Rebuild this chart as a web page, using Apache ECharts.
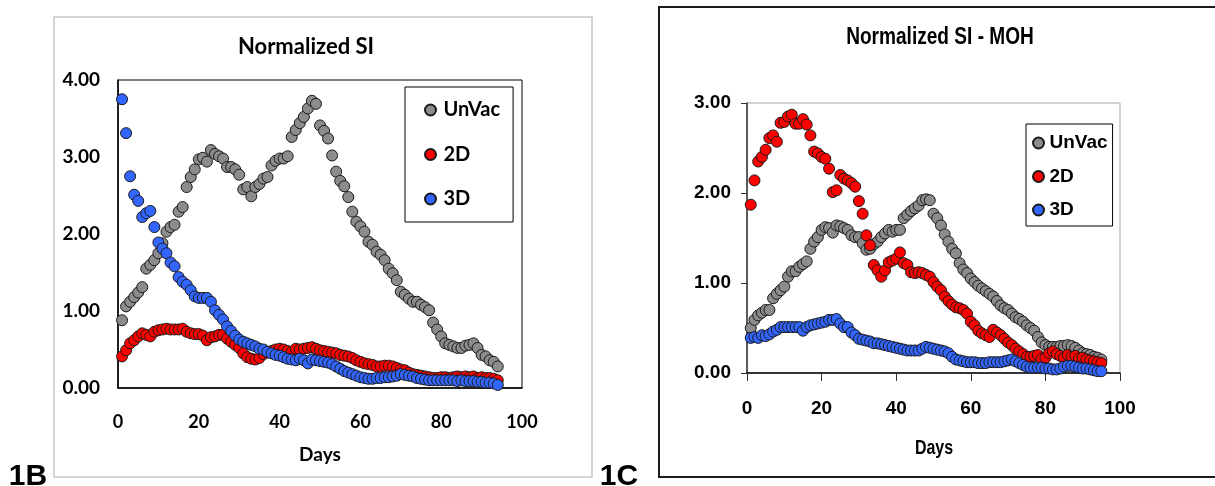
<!DOCTYPE html>
<html>
<head>
<meta charset="utf-8">
<script src="https://cdn.jsdelivr.net/npm/echarts@6/dist/echarts.min.js"></script>
<style>
html, body { margin: 0; padding: 0; background: #fff; }
#chart { width: 1215px; height: 486px; }
</style>
</head>
<body>
<div id="chart"></div>
<script>
// Panel 1B: Normalized SI, days 1-94
const daysB = [1,2,3,4,5,6,7,8,9,10,11,12,13,14,15,16,17,18,19,20,21,22,23,24,25,26,27,28,29,30,
  31,32,33,34,35,36,37,38,39,40,41,42,43,44,45,46,47,48,49,50,51,52,53,54,55,56,57,58,59,60,
  61,62,63,64,65,66,67,68,69,70,71,72,73,74,75,76,77,78,79,80,81,82,83,84,85,86,87,88,89,90,
  91,92,93,94];
const unvacB = [0.88,1.06,1.12,1.18,1.24,1.31,1.55,1.60,1.66,1.75,
  1.88,2.03,2.09,2.12,2.29,2.35,2.61,2.74,2.84,2.97,
  2.99,2.94,3.09,3.04,3.01,2.98,2.87,2.87,2.84,2.77,
  2.58,2.61,2.49,2.61,2.65,2.72,2.74,2.89,2.95,2.98,
  2.98,3.01,3.26,3.35,3.44,3.52,3.63,3.73,3.69,3.41,
  3.34,3.24,3.02,2.81,2.69,2.62,2.48,2.29,2.16,2.10,
  2.03,1.90,1.86,1.77,1.73,1.66,1.55,1.49,1.40,1.25,
  1.21,1.16,1.12,1.12,1.08,1.05,1.01,0.85,0.76,0.67,
  0.58,0.56,0.54,0.52,0.52,0.55,0.56,0.58,0.52,0.43,
  0.41,0.36,0.34,0.28];
const twoDB = [0.41,0.49,0.58,0.62,0.67,0.71,0.69,0.67,0.73,0.75,
  0.76,0.77,0.76,0.76,0.76,0.77,0.73,0.71,0.70,0.70,
  0.68,0.62,0.66,0.67,0.69,0.69,0.64,0.60,0.56,0.52,
  0.45,0.40,0.38,0.37,0.39,0.44,0.46,0.48,0.50,0.51,
  0.50,0.48,0.47,0.51,0.50,0.51,0.52,0.53,0.51,0.49,
  0.48,0.47,0.46,0.45,0.43,0.42,0.41,0.39,0.36,0.34,
  0.32,0.31,0.30,0.28,0.28,0.29,0.29,0.28,0.26,0.24,
  0.23,0.20,0.18,0.17,0.16,0.15,0.14,0.13,0.13,0.14,
  0.14,0.13,0.14,0.15,0.14,0.15,0.14,0.15,0.13,0.14,
  0.13,0.13,0.12,0.10];
const threeDB = [3.75,3.31,2.75,2.51,2.43,2.22,2.27,2.30,2.09,1.89,
  1.81,1.75,1.63,1.58,1.44,1.38,1.34,1.27,1.19,1.17,
  1.17,1.17,1.12,1.01,0.95,0.89,0.80,0.74,0.68,0.63,
  0.60,0.58,0.56,0.54,0.51,0.50,0.47,0.45,0.43,0.42,
  0.40,0.38,0.37,0.36,0.38,0.36,0.32,0.37,0.36,0.35,
  0.34,0.33,0.31,0.28,0.25,0.22,0.20,0.18,0.16,0.14,
  0.13,0.12,0.12,0.13,0.13,0.14,0.14,0.15,0.16,0.18,
  0.17,0.16,0.15,0.13,0.12,0.11,0.10,0.10,0.10,0.10,
  0.10,0.10,0.10,0.09,0.10,0.09,0.09,0.09,0.08,0.08,
  0.07,0.07,0.06,0.04];

// Panel 1C: Normalized SI - MOH, days 1-95
const daysC = [1,2,3,4,5,6,7,8,9,10,11,12,13,14,15,16,17,18,19,20,21,22,23,24,25,26,27,28,29,30,
  31,32,33,34,35,36,37,38,39,40,41,42,43,44,45,46,47,48,49,50,51,52,53,54,55,56,57,58,59,60,
  61,62,63,64,65,66,67,68,69,70,71,72,73,74,75,76,77,78,79,80,81,82,83,84,85,86,87,88,89,90,
  91,92,93,94,95];
const unvacC = [0.50,0.59,0.64,0.67,0.70,0.70,0.83,0.88,0.92,0.96,
  1.07,1.13,1.13,1.18,1.21,1.24,1.38,1.46,1.51,1.59,
  1.62,1.61,1.56,1.64,1.63,1.61,1.59,1.53,1.51,1.51,
  1.44,1.37,1.38,1.43,1.46,1.51,1.55,1.59,1.57,1.59,
  1.59,1.72,1.76,1.80,1.83,1.86,1.92,1.93,1.92,1.77,
  1.72,1.64,1.54,1.46,1.38,1.33,1.22,1.15,1.11,1.05,
  1.01,0.97,0.94,0.91,0.88,0.85,0.80,0.75,0.72,0.70,
  0.66,0.62,0.60,0.57,0.53,0.50,0.47,0.40,0.34,0.31,
  0.29,0.29,0.29,0.30,0.30,0.31,0.30,0.28,0.25,0.22,
  0.21,0.20,0.18,0.17,0.15];
const twoDC = [1.87,2.14,2.35,2.40,2.48,2.61,2.64,2.57,2.78,2.79,
  2.85,2.87,2.77,2.77,2.82,2.76,2.64,2.46,2.44,2.40,
  2.38,2.27,2.01,2.03,2.20,2.16,2.14,2.11,2.07,1.91,
  1.77,1.53,1.42,1.20,1.14,1.07,1.14,1.23,1.25,1.27,
  1.34,1.22,1.20,1.12,1.11,1.12,1.11,1.09,1.07,1.01,
  0.96,0.92,0.85,0.80,0.76,0.73,0.72,0.70,0.66,0.57,
  0.53,0.47,0.44,0.42,0.40,0.48,0.45,0.42,0.38,0.34,
  0.31,0.27,0.24,0.21,0.18,0.18,0.19,0.20,0.16,0.17,
  0.22,0.24,0.21,0.19,0.17,0.20,0.18,0.19,0.16,0.17,
  0.15,0.14,0.13,0.12,0.11];
const threeDC = [0.39,0.40,0.39,0.42,0.41,0.43,0.46,0.48,0.51,0.51,
  0.51,0.51,0.51,0.51,0.47,0.51,0.53,0.54,0.55,0.56,
  0.57,0.59,0.59,0.60,0.55,0.51,0.51,0.45,0.42,0.38,
  0.37,0.36,0.35,0.33,0.33,0.32,0.31,0.30,0.29,0.28,
  0.27,0.26,0.25,0.25,0.25,0.25,0.27,0.29,0.28,0.27,
  0.26,0.25,0.24,0.22,0.18,0.15,0.14,0.13,0.12,0.12,
  0.12,0.11,0.11,0.11,0.12,0.12,0.12,0.12,0.13,0.14,
  0.15,0.13,0.11,0.09,0.07,0.06,0.06,0.06,0.06,0.05,
  0.05,0.04,0.04,0.05,0.07,0.08,0.08,0.07,0.06,0.05,
  0.05,0.04,0.03,0.02,0.02];

const seriesNames = ['UnVac', '2D', '3D'];
const seriesColors = ['#8c8c8c', '#ff0000', '#3366ff'];

const FONT_B = 'Lato, "Open Sans", sans-serif';
const FONT_C = '"Liberation Sans", Arial, sans-serif';

const pairs = (xs, ys) => ys.map((v, i) => [xs[i], v]);

function scatter(k, xs, ys, idx) {
  return {
    type: 'scatter',
    name: seriesNames[k],
    xAxisIndex: idx,
    yAxisIndex: idx,
    data: pairs(xs, ys),
    symbol: 'circle',
    symbolSize: 11,
    itemStyle: { color: seriesColors[k], borderColor: '#1a1a1a', borderWidth: 1, opacity: 1 },
    emphasis: { disabled: true },
    silent: true
  };
}

// centred text; sx narrows the glyphs horizontally for the condensed 1C lettering
function txt(text, x, y, font, sx) {
  return {
    type: 'text', x: x, y: y, z: 10, scaleX: sx || 1,
    style: { text: text, font: font, fill: '#000', align: 'center', verticalAlign: 'middle' }
  };
}

const chart = echarts.init(document.getElementById('chart'));

chart.setOption({
  animation: false,
  backgroundColor: '#fff',
  graphic: [
    { type: 'rect', z: -1, shape: { x: 54, y: 17, width: 538, height: 460 },
      style: { fill: 'none', stroke: '#c8c8c8', lineWidth: 1.5 } },
    { type: 'rect', z: -1, shape: { x: 659, y: 7, width: 570, height: 470 },
      style: { fill: 'none', stroke: '#1a1a1a', lineWidth: 2 } },
    txt('Normalized SI', 306, 47, 'bold 22px ' + FONT_B),
    txt('Days', 320, 455, 'bold 19px ' + FONT_B),
    txt('Normalized SI - MOH', 940, 38, 'bold 23px ' + FONT_C, 0.83),
    txt('Days', 934, 448, 'bold 20px ' + FONT_C, 0.8),
    txt('1B', 28, 477, 'bold 30px "Liberation Sans", Arial, sans-serif'),
    txt('1C', 619, 477, 'bold 30px "Liberation Sans", Arial, sans-serif')
  ],
  legend: [
    {
      data: seriesNames, orient: 'vertical', left: 405, top: 87,
      icon: 'circle', itemWidth: 16, itemHeight: 11, itemGap: 24.5,
      padding: [13, 13, 13, 19], borderColor: '#000', borderWidth: 1, backgroundColor: '#fff',
      selectedMode: false,
      textStyle: { fontFamily: FONT_B, fontWeight: 'bold', fontSize: 20, lineHeight: 20, color: '#000' }
    },
    {
      data: seriesNames, orient: 'vertical', left: 1026, top: 124,
      icon: 'circle', itemWidth: 12, itemHeight: 11, itemGap: 11.5,
      padding: [8, 5, 5, 6], borderColor: '#000', borderWidth: 1, backgroundColor: '#fff',
      selectedMode: false,
      textStyle: { fontFamily: FONT_C, fontWeight: 'bold', fontSize: 19, lineHeight: 22, color: '#000' }
    }
  ],
  grid: [
    { left: 118, top: 80, width: 404, height: 308, show: true, borderColor: '#000', borderWidth: 1 },
    { left: 747, top: 103, width: 373, height: 270, show: true, borderColor: '#a6a6a6', borderWidth: 1 }
  ],
  xAxis: [
    {
      type: 'value', gridIndex: 0, min: 0, max: 100, interval: 20,
      axisLine: { show: true, onZero: false, lineStyle: { color: '#000', width: 1.5 } },
      axisTick: { show: false }, splitLine: { show: false },
      axisLabel: { margin: 25, fontFamily: FONT_B, fontWeight: 'bold', fontSize: 18, color: '#000' }
    },
    {
      type: 'value', gridIndex: 1, min: 0, max: 100, interval: 20,
      axisLine: { show: true, onZero: false, lineStyle: { color: '#000', width: 1.5 } },
      axisTick: { show: true, length: 8, lineStyle: { color: '#333', width: 1 } },
      splitLine: { show: false },
      axisLabel: { margin: 26, fontFamily: FONT_C, fontWeight: 'bold', fontSize: 19, color: '#000' }
    }
  ],
  yAxis: [
    {
      type: 'value', gridIndex: 0, min: 0, max: 4, interval: 1,
      axisLine: { show: true, onZero: false, lineStyle: { color: '#000', width: 1.5 } },
      axisTick: { show: false }, splitLine: { show: false },
      axisLabel: { margin: 18, formatter: v => v.toFixed(2), fontFamily: FONT_B, fontWeight: 'bold', fontSize: 19, color: '#000' }
    },
    {
      type: 'value', gridIndex: 1, min: 0, max: 3, interval: 1,
      axisLine: { show: true, onZero: false, lineStyle: { color: '#333', width: 1.5 } },
      axisTick: { show: true, length: 6, lineStyle: { color: '#333', width: 1 } },
      splitLine: { show: false },
      axisLabel: { margin: 16, formatter: v => v.toFixed(2), fontFamily: FONT_C, fontWeight: 'bold', fontSize: 19, color: '#000' }
    }
  ],
  series: [
    scatter(0, daysB, unvacB, 0),
    scatter(1, daysB, twoDB, 0),
    scatter(2, daysB, threeDB, 0),
    scatter(0, daysC, unvacC, 1),
    scatter(1, daysC, twoDC, 1),
    scatter(2, daysC, threeDC, 1)
  ]
});
</script>
</body>
</html>
